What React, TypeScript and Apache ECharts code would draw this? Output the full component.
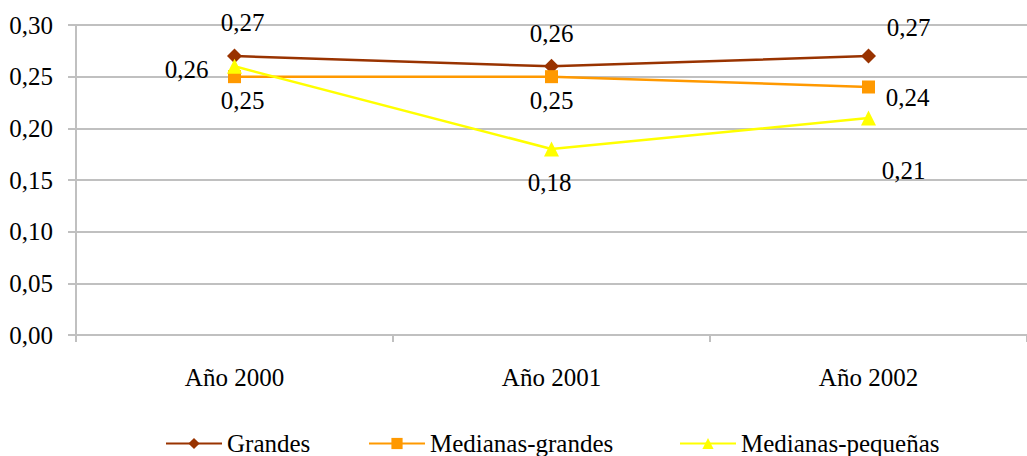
import React, { useEffect, useRef } from "react";
import * as echarts from "echarts";

const categories = ["Año 2000", "Año 2001", "Año 2002"];
const seriesNames = ["Grandes", "Medianas-grandes", "Medianas-pequeñas"];
const grandes = [0.27, 0.26, 0.27];
const medianasGrandes = [0.25, 0.25, 0.24];
const medianasPequenas = [0.26, 0.18, 0.21];
const yTicks = { min: 0, max: 0.3, interval: 0.05 };

// label offsets (px) relative to each point
const offGrandes = [[8, -34], [0, -33], [40, -29]];
const offMG = [[8, 24], [0, 24], [39, 10]];
const offMP = [[-48, 3], [-2, 33], [35, 52]];
const legendLefts = [165, 368, 679];

const FONT = "Liberation Serif";
const FS = 25;
const fmt = (v: number) => v.toFixed(2).replace(".", ",");

function withLabels(values: number[], offs: number[][]) {
  return values.map((v, i) => ({
    value: v,
    label: {
      show: true,
      position: "inside",
      offset: offs[i],
      formatter: () => fmt(v),
      color: "#000",
      fontFamily: FONT,
      fontSize: FS,
    },
  }));
}

export default function App() {
  const ref = useRef<HTMLDivElement>(null);
  useEffect(() => {
    if (!ref.current) return;
    const chart = echarts.init(ref.current, null, { renderer: "svg" });
    const mk = (name: string, data: any[], color: string, symbol: string, size: number) => ({
      name,
      type: "line",
      data,
      symbol,
      symbolSize: size,
      lineStyle: { color, width: 2.5 },
      itemStyle: { color },
      z: 3,
    });
    chart.setOption({
      animation: false,
      grid: { left: 76, top: 25, width: 964, height: 310, containLabel: false },
      legend: seriesNames.map((n, i) => ({
        left: legendLefts[i],
        top: 431,
        padding: 0,
        itemWidth: 56,
        itemHeight: 14,
        itemGap: 5,
        textStyle: { fontFamily: FONT, fontSize: FS, color: "#000", lineHeight: 22 },
        data: [n],
      })),
      xAxis: {
        type: "category",
        data: categories,
        boundaryGap: true,
        axisLine: { lineStyle: { color: "#c0c0c0", width: 2 } },
        axisTick: { show: true, length: 7, lineStyle: { color: "#c0c0c0", width: 2 } },
        axisLabel: { color: "#000", fontFamily: FONT, fontSize: FS, margin: 30 },
      },
      yAxis: {
        type: "value",
        min: yTicks.min,
        max: yTicks.max,
        interval: yTicks.interval,
        axisLine: { show: true, lineStyle: { color: "#c0c0c0", width: 2 } },
        axisTick: { show: true, length: 8, lineStyle: { color: "#c0c0c0", width: 2 } },
        splitLine: { lineStyle: { color: "#c0c0c0", width: 2 } },
        axisLabel: {
          color: "#000",
          fontFamily: FONT,
          fontSize: FS,
          margin: 23,
          formatter: (v: number) => fmt(v),
        },
      },
      series: [
        mk(seriesNames[0], withLabels(grandes, offGrandes), "#993300", "diamond", 15),
        mk(seriesNames[1], withLabels(medianasGrandes, offMG), "#FF9900", "rect", 13),
        mk(seriesNames[2], withLabels(medianasPequenas, offMP), "#FFFF00", "triangle", 15),
      ],
    });
    return () => chart.dispose();
  }, []);
  return (
    <div
      ref={ref}
      style={{ position: "absolute", left: 0, top: 0, width: 1027, height: 456, background: "#fff" }}
    />
  );
}
